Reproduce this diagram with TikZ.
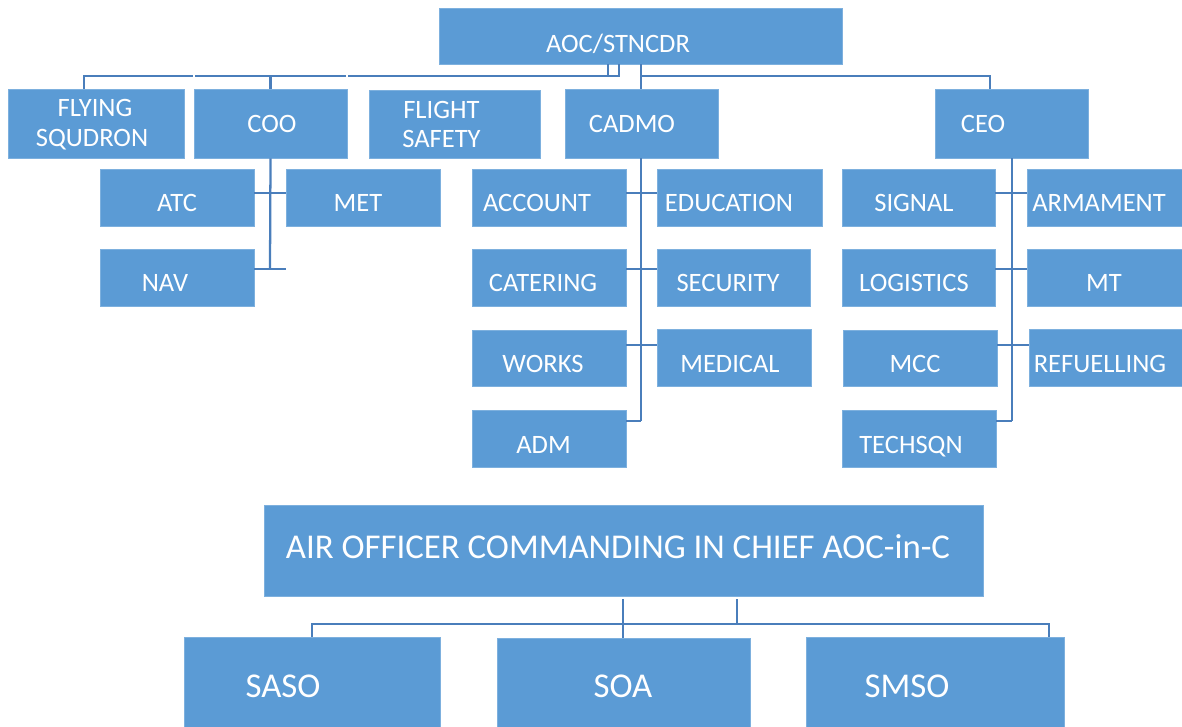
\documentclass[tikz,border=0pt]{standalone}
\usepackage{fontspec}
\setmainfont{Carlito}
\usetikzlibrary{fit}
\definecolor{boxblue}{HTML}{5B9BD5}
\definecolor{boxedge}{HTML}{7DB0DE}
\definecolor{linkblue}{HTML}{4A7EBB}
\begin{document}
\begin{tikzpicture}[x=0.75pt,y=-0.75pt,
  box/.style={fill=boxblue, draw=boxedge, line width=0.5pt, inner sep=0pt},
  lbl/.style={text=white, inner sep=0pt, anchor=base, font=\fontsize{19.9}{23}\selectfont},
  biglbl/.style={lbl, font=\fontsize{26.1}{30}\selectfont},
  conn/.style={draw=linkblue, line width=1.7pt}]
\useasboundingbox (0,0) rectangle (1182,727);

% ---------- station level ----------
\node[box, fit={(439,8)(842,64)}] (aoc) {};
\node[lbl] (aoc-t) at (618,53) {AOC/STNCDR};

\node[box, fit={(8,89)(184,158)}] (flying) {};
\node[lbl] (flying-t1) at (95,117) {FLYING};
\node[lbl] (flying-t2) at (92,147) {SQUDRON};

\node[box, fit={(194,89)(347,158)}] (coo) {};
\node[lbl] (coo-t) at (272,133) {COO};

\node[box, fit={(369,90)(540,158)}] (fsafety) {};
\node[lbl, anchor=base west] (fsafety-t1) at (403,119) {FLIGHT};
\node[lbl, anchor=base west] (fsafety-t2) at (402,148) {SAFETY};

\node[box, fit={(565,89)(718,158)}] (cadmo) {};
\node[lbl] (cadmo-t) at (632,133) {CADMO};

\node[box, fit={(935,89)(1088,158)}] (ceo) {};
\node[lbl] (ceo-t) at (983,133) {CEO};

% ---------- COO branch ----------
\node[box, fit={(100,169)(254,226)}] (atc) {};
\node[lbl] (atc-t) at (177,212) {ATC};
\node[box, fit={(286,169)(440,226)}] (met) {};
\node[lbl] (met-t) at (358,212) {MET};
\node[box, fit={(100,249)(254,306)}] (nav) {};
\node[lbl] (nav-t) at (165,292) {NAV};

% ---------- CADMO branch ----------
\node[box, fit={(472,169)(626,226)}] (account) {};
\node[lbl] (account-t) at (537,212) {ACCOUNT};
\node[box, fit={(657,169)(822,226)}] (education) {};
\node[lbl] (education-t) at (729,212) {EDUCATION};
\node[box, fit={(472,249)(626,306)}] (catering) {};
\node[lbl] (catering-t) at (543,292) {CATERING};
\node[box, fit={(657,249)(810,306)}] (security) {};
\node[lbl] (security-t) at (728,292) {SECURITY};
\node[box, fit={(472,330)(626,386)}] (works) {};
\node[lbl] (works-t) at (543,373) {WORKS};
\node[box, fit={(657,329)(811,386)}] (medical) {};
\node[lbl] (medical-t) at (730,373) {MEDICAL};
\node[box, fit={(472,410)(626,467)}] (adm) {};
\node[lbl] (adm-t) at (543.5,453) {ADM};

% ---------- CEO branch ----------
\node[box, fit={(842,169)(995,226)}] (signal) {};
\node[lbl] (signal-t) at (914,212) {SIGNAL};
\node[box, fit={(1027,169)(1182,226)}] (armament) {};
\node[lbl] (armament-t) at (1099,212) {ARMAMENT};
\node[box, fit={(842,249)(995,306)}] (logistics) {};
\node[lbl] (logistics-t) at (914,292) {LOGISTICS};
\node[box, fit={(1027,249)(1182,306)}] (mt) {};
\node[lbl] (mt-t) at (1104,292) {MT};
\node[box, fit={(843,330)(997,386)}] (mcc) {};
\node[lbl] (mcc-t) at (915,373) {MCC};
\node[box, fit={(1029,329)(1182,386)}] (refuelling) {};
\node[lbl] (refuelling-t) at (1100,373) {REFUELLING};
\node[box, fit={(842,410)(996,467)}] (techsqn) {};
\node[lbl] (techsqn-t) at (911,453) {TECHSQN};

% ---------- command level ----------
\node[box, fit={(264,505)(983,596)}] (aocinc) {};
\node[biglbl] (aocinc-t) at (618,558) {AIR OFFICER COMMANDING IN CHIEF AOC-in-C};
\node[box, fit={(184,637)(440,727)}] (saso) {};
\node[biglbl] (saso-t) at (283,697) {SASO};
\node[box, fit={(497,638)(750,727)}] (soa) {};
\node[biglbl] (soa-t) at (623,697) {SOA};
\node[box, fit={(806,637)(1064,727)}] (smso) {};
\node[biglbl] (smso-t) at (907,697) {SMSO};

% ---------- station connectors ----------
\coordinate (busA) at (608,76);
\coordinate (busB) at (347.5,76);
\coordinate (busC) at (346,76);
\coordinate (busD) at (194.5,76);
\coordinate (busE) at (193,76);
\coordinate (busR) at (641,76);
\draw[conn] (aoc.south -| busA) -- (busA);
\draw[conn] (aoc.south -| 619,0) |- (busB);
\draw[conn] (busC) -- (busD);
\draw[conn] (coo.north |- busC) -- (coo.north);
\draw[conn] (busE) -| (flying.north -| 84,0);
\draw[conn] (aoc.south -| busR) -- (cadmo.north -| busR);
\draw[conn] (busR) -| (ceo.north -| 990,0);

% COO branch spine and ticks
\draw[conn] (coo.south) -- (270,269);
\draw[conn] (atc.east |- 0,193) -- (met.west |- 0,193);
\draw[conn] (nav.east |- 0,269) -- (286,269);

% CADMO branch spine and ticks
\draw[conn] (cadmo.south -| 641,0) -- (641,421);
\draw[conn] (account.east |- 0,193) -- (education.west |- 0,193);
\draw[conn] (catering.east |- 0,269) -- (security.west |- 0,269);
\draw[conn] (works.east |- 0,345) -- (medical.west |- 0,345);
\draw[conn] (adm.east |- 0,421) -- (641,421);

% CEO branch spine and ticks
\draw[conn] (ceo.south -| 1012,0) -- (1012,421);
\draw[conn] (signal.east |- 0,193) -- (armament.west |- 0,193);
\draw[conn] (logistics.east |- 0,269) -- (mt.west |- 0,269);
\draw[conn] (mcc.east |- 0,345) -- (refuelling.west |- 0,345);
\draw[conn] (techsqn.east |- 0,421) -- (1012,421);

% ---------- command connectors ----------
\coordinate (cbusL) at (312,624);
\coordinate (cbusR) at (1049,624);
\draw[conn] (623,599) -- (soa.north -| 623,0);
\draw[conn] (737,599) -- (737,624);
\draw[conn] (saso.north -| cbusL) -- (cbusL) -- (cbusR) -- (smso.north -| cbusR);
\end{tikzpicture}
\end{document}
